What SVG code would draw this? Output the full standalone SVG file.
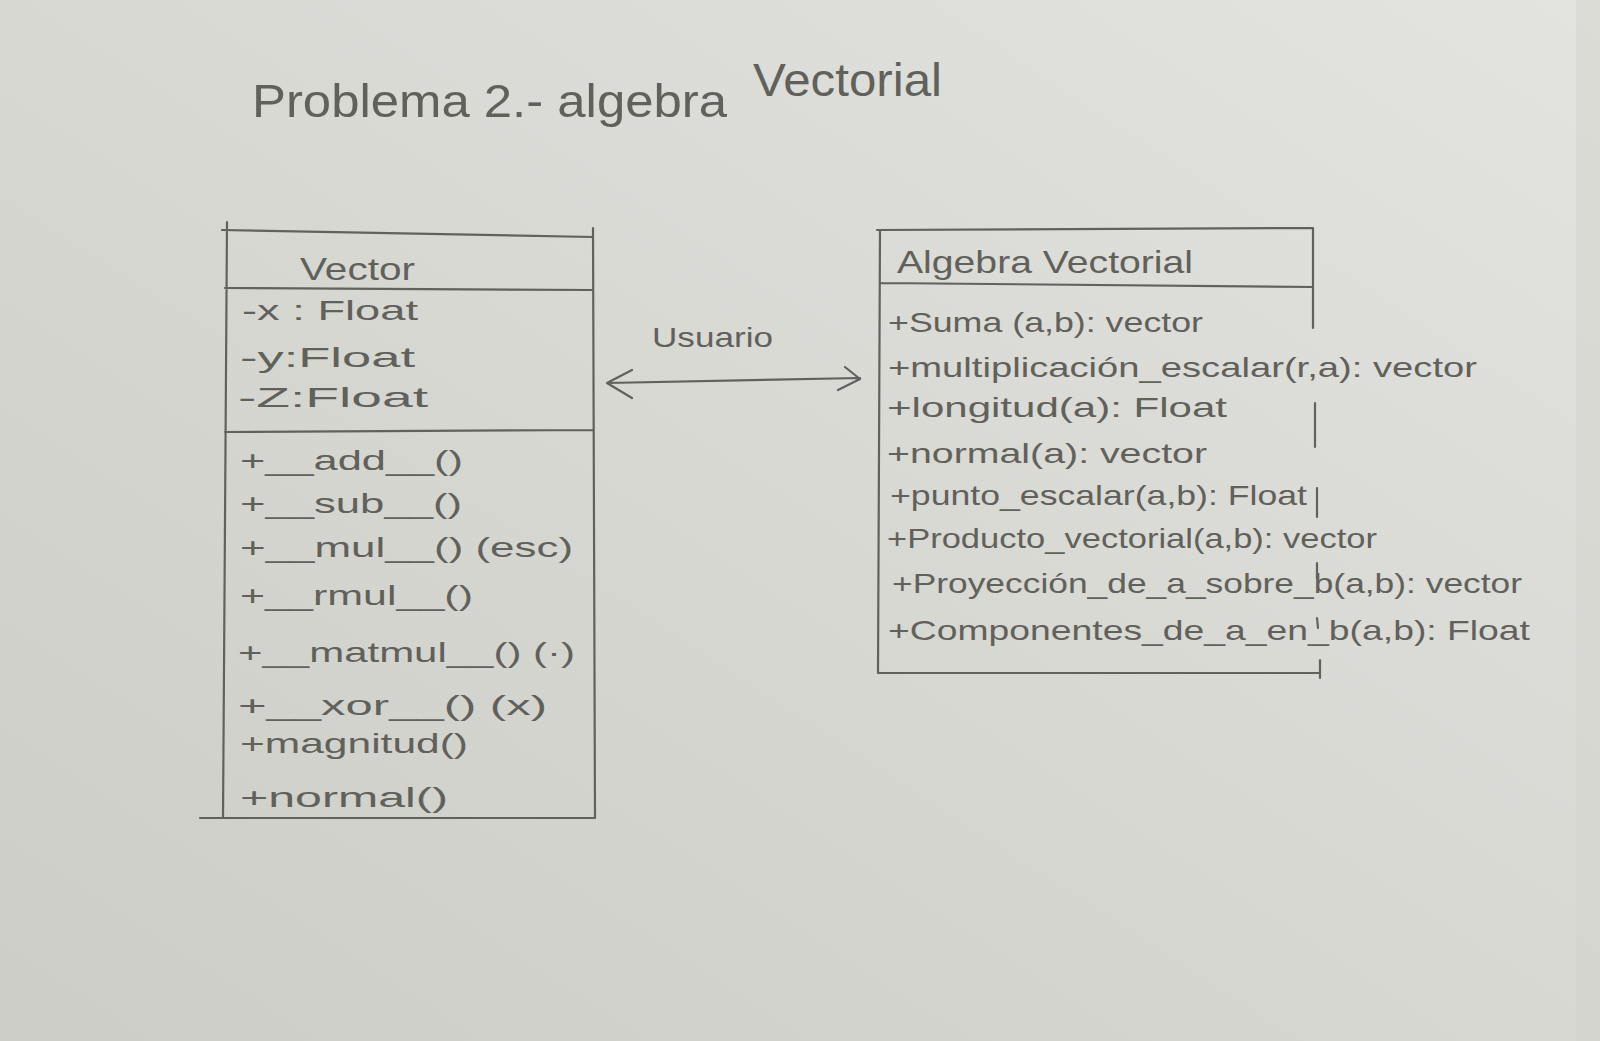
<svg xmlns="http://www.w3.org/2000/svg" width="1600" height="1041" viewBox="0 0 1600 1041">
<defs>
<linearGradient id="paper" x1="1" y1="0" x2="0" y2="1">
<stop offset="0" stop-color="#e3e3df"/>
<stop offset="0.5" stop-color="#d8d8d3"/>
<stop offset="1" stop-color="#cdcdc8"/>
</linearGradient>
<style>
.ln{stroke:#62625d;stroke-width:2.2;fill:none;stroke-linecap:round;stroke-linejoin:round}
.tx{font-family:"Liberation Sans","DejaVu Sans",sans-serif;fill:#61615b;font-size:28px}
.hd{font-size:32px}
.tt{font-size:46px}
</style>
</defs>
<rect width="1600" height="1041" fill="url(#paper)"/>
<rect x="1576" y="0" width="24" height="1041" fill="#d2d2cd" opacity="0.45"/>

<g id="title">
<text class="tx tt" x="252" y="117" textLength="475" lengthAdjust="spacingAndGlyphs">Problema 2.- algebra</text>
<text class="tx tt" x="753" y="96" textLength="189" lengthAdjust="spacingAndGlyphs">Vectorial</text>
</g>

<g id="vector">
<path class="ln" d="M227,222 L223,818 M222,230 L593,237 M593,228 L595,818 M200,818 L595,818 M225,288 L593,290 M225,432 L593,430"/>
<text class="tx hd" x="300" y="280" textLength="115" lengthAdjust="spacingAndGlyphs">Vector</text>
<text class="tx" x="242" y="320" textLength="176" lengthAdjust="spacingAndGlyphs">-x : Float</text>
<text class="tx" x="240" y="367" textLength="175" lengthAdjust="spacingAndGlyphs">-y:Float</text>
<text class="tx" x="238" y="407" textLength="190" lengthAdjust="spacingAndGlyphs">-Z:Float</text>
<text class="tx" x="240" y="470" textLength="223" lengthAdjust="spacingAndGlyphs">+__add__()</text>
<text class="tx" x="240" y="513" textLength="222" lengthAdjust="spacingAndGlyphs">+__sub__()</text>
<text class="tx" x="240" y="557" textLength="333" lengthAdjust="spacingAndGlyphs">+__mul__() (esc)</text>
<text class="tx" x="240" y="605" textLength="233" lengthAdjust="spacingAndGlyphs">+__rmul__()</text>
<text class="tx" x="238" y="662" textLength="337" lengthAdjust="spacingAndGlyphs">+__matmul__() (·)</text>
<text class="tx" x="238" y="715" textLength="309" lengthAdjust="spacingAndGlyphs">+__xor__() (x)</text>
<text class="tx" x="240" y="753" textLength="228" lengthAdjust="spacingAndGlyphs">+magnitud()</text>
<text class="tx" x="240" y="807" textLength="208" lengthAdjust="spacingAndGlyphs">+normal()</text>
</g>

<g id="algebra-vectorial">
<path class="ln" d="M877,230 L1313,228 M880,230 L878,673 M880,283 L1313,287 M1313,228 L1313,328 M1315,403 L1315,447 M1317,488 L1317,517 M1317,563 L1317,578 M1317,618 L1318,628 M1320,660 L1320,678 M878,673 L1320,673"/>
<text class="tx hd" x="897" y="273" textLength="296" lengthAdjust="spacingAndGlyphs">Algebra Vectorial</text>
<text class="tx" x="888" y="332" textLength="315" lengthAdjust="spacingAndGlyphs">+Suma (a,b): vector</text>
<text class="tx" x="888" y="377" textLength="589" lengthAdjust="spacingAndGlyphs">+multiplicación_escalar(r,a): vector</text>
<text class="tx" x="887" y="417" textLength="340" lengthAdjust="spacingAndGlyphs">+longitud(a): Float</text>
<text class="tx" x="887" y="463" textLength="320" lengthAdjust="spacingAndGlyphs">+normal(a): vector</text>
<text class="tx" x="890" y="505" textLength="417" lengthAdjust="spacingAndGlyphs">+punto_escalar(a,b): Float</text>
<text class="tx" x="887" y="548" textLength="490" lengthAdjust="spacingAndGlyphs">+Producto_vectorial(a,b): vector</text>
<text class="tx" x="892" y="593" textLength="630" lengthAdjust="spacingAndGlyphs">+Proyección_de_a_sobre_b(a,b): vector</text>
<text class="tx" x="888" y="640" textLength="642" lengthAdjust="spacingAndGlyphs">+Componentes_de_a_en_b(a,b): Float</text>
</g>

<g id="connectors">
<g id="usuario">
<path class="ln" d="M607,383 L860,378 M632,370 L607,383 L632,398 M845,367 L860,379 L838,390"/>
<text class="tx" x="652" y="347" textLength="121" lengthAdjust="spacingAndGlyphs">Usuario</text>
</g>
</g>
</svg>
